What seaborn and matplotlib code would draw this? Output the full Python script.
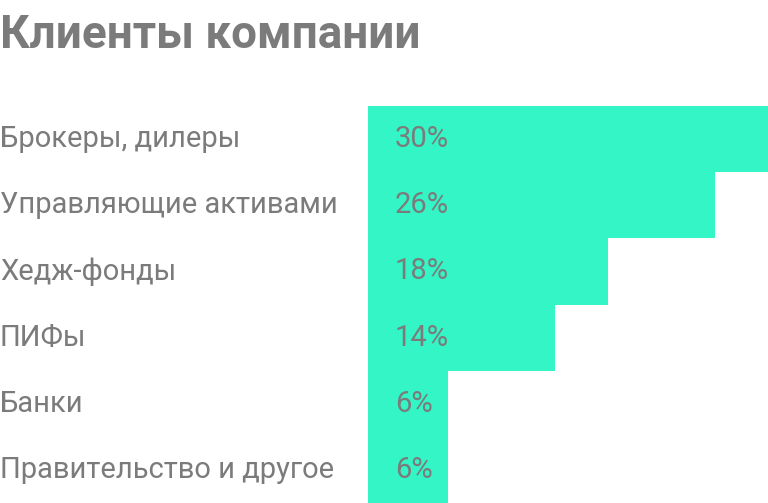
import matplotlib
matplotlib.use('Agg')
import matplotlib.pyplot as plt
import seaborn as sns
import pandas as pd

categories = ['Брокеры, дилеры', 'Управляющие активами', 'Хедж-фонды', 'ПИФы', 'Банки', 'Правительство и другое']
shares = [30, 26, 18, 14, 6, 6]

df = pd.DataFrame({'cat': categories, 'share': shares})

sns.set_style('white')
plt.rcParams['font.family'] = ['Roboto', 'DejaVu Sans']

GREY = '#7b7b7b'
fig = plt.figure(figsize=(7.68, 5.03), dpi=100)
ax = fig.add_axes([368 / 768, 0, 400 / 768, 397 / 503])
sns.barplot(data=df, x='share', y='cat', color='#33F5C5', width=1.0, saturation=1,
            linewidth=0, edgecolor='none', ax=ax)
ax.set_xlim(0, 30)
ax.set_ylim(len(categories) - 0.5, -0.5)
ax.axis('off')

for i, (c, v) in enumerate(zip(categories, shares)):
    ax.text(2, i, f'{v}%', va='center', ha='left', fontsize=21, color=GREY)
    ax.text(-27.6, i, c, va='center', ha='left', fontsize=21, color=GREY)

fig.text(0.0, 0.93, 'Клиенты компании', fontsize=33, fontweight='bold', color=GREY, va='center', ha='left')

fig.savefig('out.png', dpi=100)
